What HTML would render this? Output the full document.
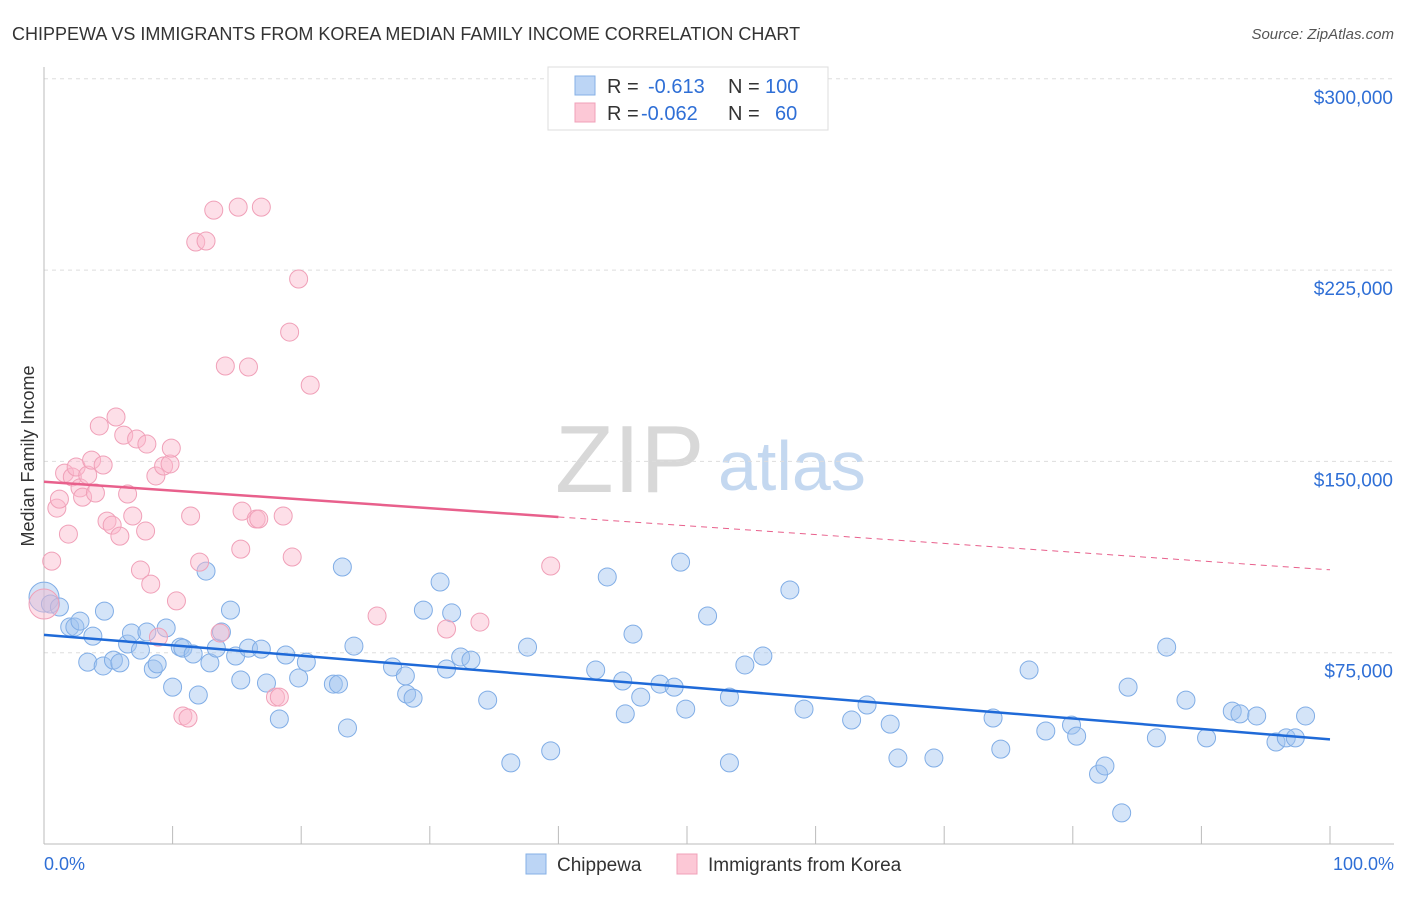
<!DOCTYPE html>
<html><head><meta charset="utf-8"><style>
body{margin:0;background:#fff;font-family:"Liberation Sans",sans-serif;}
svg text{font-family:"Liberation Sans",sans-serif;}
</style></head><body>
<svg id="chart" width="1406" height="892">
<text x="12" y="40" font-size="18" fill="#333">CHIPPEWA VS IMMIGRANTS FROM KOREA MEDIAN FAMILY INCOME CORRELATION CHART</text>
<text x="1394" y="39" font-size="15" fill="#555" font-style="italic" text-anchor="end">Source: ZipAtlas.com</text>
<g>
<text x="555" y="492" font-size="96" font-family="Liberation Serif,serif" fill="#d8d8d8">ZIP</text>
<text x="718" y="490" font-size="70" fill="#c4d8f0">atlas</text>
</g>
<text transform="translate(34,456) rotate(-90)" font-size="18" fill="#333" text-anchor="middle">Median Family Income</text>
<g id="grid"></g>
<g id="axes"></g>
<g id="marks"></g>
<g id="lines"></g>
<g>
<rect x="548" y="67" width="280" height="63" fill="#fff" stroke="#ddd"/>
<rect x="575" y="76" width="20" height="19" fill="#bcd5f5" stroke="#86b0e6"/>
<rect x="575" y="103" width="20" height="19" fill="#fcc8d6" stroke="#f0a0b8"/>
<text x="607" y="93" font-size="20" fill="#333">R = </text><text x="648" y="93" font-size="20" fill="#2f6fd6">-0.613</text>
<text x="728" y="93" font-size="20" fill="#333">N = </text><text x="765" y="93" font-size="20" fill="#2f6fd6">100</text>
<text x="607" y="120" font-size="20" fill="#333">R = </text><text x="641" y="120" font-size="20" fill="#2f6fd6">-0.062</text>
<text x="728" y="120" font-size="20" fill="#333">N = </text><text x="775" y="120" font-size="20" fill="#2f6fd6">60</text>
</g>
<g>
<rect x="526" y="854" width="20" height="20" fill="#bcd5f5" stroke="#86b0e6"/>
<text x="557" y="871" font-size="19" fill="#333">Chippewa</text>
<rect x="677" y="854" width="20" height="20" fill="#fcc8d6" stroke="#f0a0b8"/>
<text x="708" y="871" font-size="19" fill="#333">Immigrants from Korea</text>
</g>
<text x="44" y="870" font-size="18" fill="#2f6fd6">0.0%</text>
<text x="1394" y="870" font-size="18" fill="#2f6fd6" text-anchor="end">100.0%</text>
</svg>
<script>
const yTicks=[75000,150000,225000,300000];
const yTickLabels=["$75,000","$150,000","$225,000","$300,000"];
const xTicks=[0,10,20,30,40,50,60,70,80,90,100];
const blueX=[0,0.5,1.2,2,2.4,2.8,3.4,3.8,4.6,4.7,5.4,5.9,6.5,6.8,7.5,8,8.5,8.8,9.5,10,10.6,10.8,11.6,12,12.6,12.9,13.4,13.8,14.5,14.9,15.3,15.9,16.9,17.3,18.3,18.8,19.8,20.4,22.5,22.9,23.2,23.6,24.1,27.1,28.1,28.2,28.7,29.5,30.8,31.3,31.7,32.4,33.2,34.5,36.3,37.6,39.4,42.9,43.8,45,45.2,45.8,46.4,47.9,49,49.5,49.9,51.6,53.3,53.3,54.5,55.9,58,59.1,62.8,64,65.8,66.4,69.2,73.8,74.4,76.6,77.9,79.9,80.3,82,82.5,83.8,84.3,86.5,87.3,88.8,90.4,92.4,93,94.3,95.8,96.6,97.3,98.1,98.8]
.slice(0,100);
const blueY=[96.8,94.1,92.9,85.1,85.1,87.4,71.3,81.5,69.8,91.3,72.1,71,78.4,82.7,76,83.1,68.6,70.6,84.7,61.5,77.2,76.8,74.5,58.4,107,71,76.8,83.1,91.7,73.7,64.3,76.8,76.4,63.1,49,74.1,65.1,71.3,62.7,62.7,108.6,45.5,77.6,69.4,65.9,58.8,57.2,91.7,102.7,68.6,90.6,73.3,72.1,56.4,31.8,77.2,36.5,68.2,104.7,63.9,51,82.3,57.6,62.7,61.5,110.5,52.9,89.4,57.6,31.8,70.2,73.7,99.6,52.9,48.6,54.5,47,33.7,33.7,49.4,37.2,68.2,44.3,46.6,42.3,27.4,30.6,12.2,61.5,41.6,77.2,56.4,41.6,52.1,51,50.2,40,41.6,41.6,50.2];
const pinkX=[0,0.6,1,1.2,1.6,1.9,2.2,2.5,2.8,3.0,3.4,3.7,4.0,4.6,4.3,4.9,5.3,5.6,5.9,6.2,6.5,6.9,7.2,7.5,7.9,8,8.3,8.7,8.9,9.3,9.8,9.9,10.3,10.8,11.2,11.4,11.8,12.1,12.6,13.2,13.7,14.1,15.1,15.3,15.4,15.9,16.5,16.7,16.9,18,18.3,18.6,19.1,19.3,19.8,20.7,25.9,31.3,33.9,39.4];
const pinkY=[94.1,110.9,131.7,135.2,145.4,121.5,143.9,147.8,139.6,136,144.6,150.5,137.6,148.6,163.9,126.6,125,167.4,120.7,160.3,137.2,128.6,158.8,107.4,122.7,156.8,101.9,144.3,81.1,148.2,149,155.2,95.3,50.2,49.4,128.6,236,110.5,236.4,248.5,82.7,187.4,249.7,115.6,130.5,187,127.4,127.4,249.7,57.6,57.6,128.6,200.7,112.5,221.5,179.9,89.4,84.3,87,109];
const blueTrend=[82000,41000];
const pinkTrend=[142000,107500];
const NS="http://www.w3.org/2000/svg";
const X0=44,X1=1330,Y0=844,YK=191.3/75000;
const xs=p=>X0+(X1-X0)*p/100, ys=v=>Y0-v*YK;
function mk(t,a,parent){const e=document.createElementNS(NS,t);for(const k in a)e.setAttribute(k,a[k]);document.getElementById(parent).appendChild(e);return e;}
yTicks.forEach((v,i)=>{
 const l=mk('line',{x1:44,x2:1394,y1:ys(v),y2:ys(v),stroke:'#ddd','stroke-dasharray':'4,4'},'grid');
 
 
 const t=mk('text',{x:1393,y:ys(v)+25,'font-size':19,fill:'#2f6fd6','text-anchor':'end'},'grid');
 t.textContent=yTickLabels[i];
 
 
});
let a=mk('line',{x1:44,x2:44,y1:67,y2:844,stroke:'#bbb'},'axes');


a=mk('line',{x1:44,x2:1394,y1:844,y2:844,stroke:'#bbb'},'axes');


xTicks.forEach(p=>{const t=mk('line',{x1:xs(p),x2:xs(p),y1:826,y2:844,stroke:'#bbb'},'axes');
 
 });
blueX.forEach((p,i)=>{const c=mk('circle',{cx:xs(p),cy:ys(blueY[i]*1000),r:i==0?15:9,fill:'rgba(160,196,240,0.45)',stroke:'#80ade6','stroke-width':1},'marks');
 
 });
pinkX.forEach((p,i)=>{const c=mk('circle',{cx:xs(p),cy:ys(pinkY[i]*1000),r:i==0?15:9,fill:'rgba(250,185,205,0.45)',stroke:'#f0a0b8','stroke-width':1},'marks');
 
 });
let l=mk('line',{x1:xs(0),y1:ys(blueTrend[0]),x2:xs(100),y2:ys(blueTrend[1]),stroke:'#1f6ad8','stroke-width':2.5},'lines');


const pm=pinkTrend[0]+(pinkTrend[1]-pinkTrend[0])*0.4;
l=mk('line',{x1:xs(0),y1:ys(pinkTrend[0]),x2:xs(40),y2:ys(pm),stroke:'#e8608c','stroke-width':2.5},'lines');


l=mk('line',{x1:xs(40),y1:ys(pm),x2:xs(100),y2:ys(pinkTrend[1]),stroke:'#e8608c','stroke-width':1,'stroke-dasharray':'6,5'},'lines');


</script>
</body></html>
